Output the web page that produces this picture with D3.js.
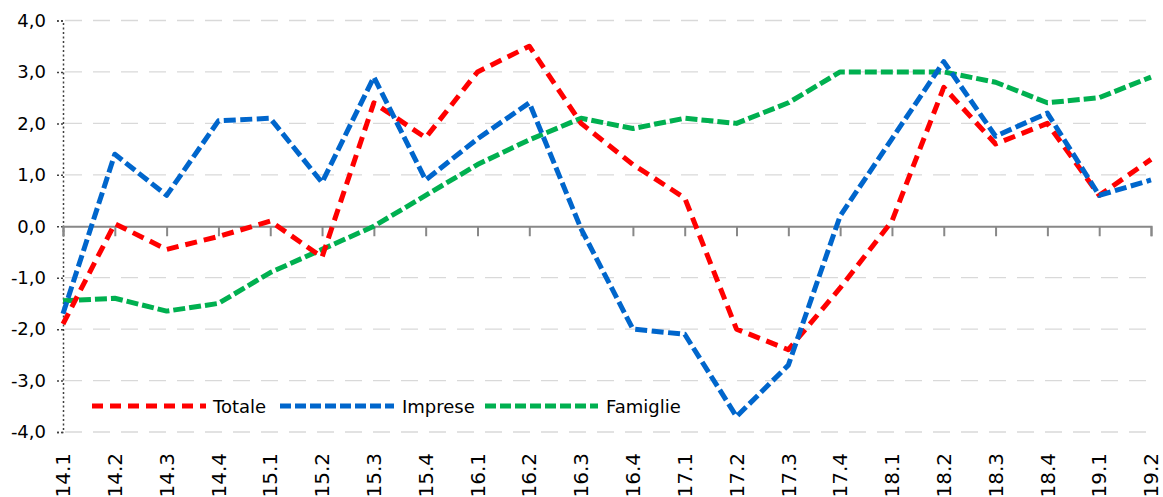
<!DOCTYPE html>
<html><head><meta charset="utf-8">
<script src="https://cdn.jsdelivr.net/npm/d3@7"></script>
<style>
html,body{margin:0;padding:0;background:#fff;}
svg{display:block;font-family:"DejaVu Sans",Verdana,sans-serif;}
</style></head>
<body>
<svg id="chart" width="1163" height="497"></svg>
<script>
const categories = ["14.1","14.2","14.3","14.4","15.1","15.2","15.3","15.4","16.1","16.2","16.3","16.4","17.1","17.2","17.3","17.4","18.1","18.2","18.3","18.4","19.1","19.2"];
const totale   = [-1.9, 0.05, -0.45, -0.2, 0.1, -0.6, 2.4, 1.72, 3.0, 3.5, 2.0, 1.2, 0.55, -2.0, -2.4, -1.2, 0.1, 2.7, 1.6, 2.0, 0.6, 1.3];
const imprese  = [-1.7, 1.4, 0.6, 2.05, 2.1, 0.85, 2.9, 0.9, 1.7, 2.4, -0.05, -2.0, -2.1, -3.7, -2.7, 0.2, 1.7, 3.2, 1.75, 2.2, 0.6, 0.9];
const famiglie = [-1.45, -1.4, -1.65, -1.5, -0.9, -0.45, 0.0, 0.6, 1.2, 1.68, 2.1, 1.9, 2.1, 2.0, 2.4, 3.0, 3.0, 3.0, 2.8, 2.4, 2.5, 2.9];
const yTicks = [-4,-3,-2,-1,0,1,2,3,4];
const seriesNames = ["Totale","Imprese","Famiglie"];

const svg = d3.select("#chart");
const x = d3.scalePoint().domain(categories).range([63, 1151]);
const y = d3.scaleLinear().domain([-4, 4]).range([432, 20.5]);
const fmt = v => d3.format(".1f")(v).replace(".", ",").replace("−","-");

// gridlines
svg.append("g").selectAll("line").data(yTicks.filter(d => d !== 0)).join("line")
  .attr("x1", 65).attr("x2", 1151)
  .attr("y1", d => y(d)).attr("y2", d => y(d))
  .attr("stroke", "#d9d9d9").attr("stroke-width", 1.3)
  .attr("stroke-dasharray", "17,11");

// y axis
const yAxis = d3.axisLeft(y).tickValues(yTicks).tickSize(6).tickFormat(fmt).tickPadding(11);
const gy = svg.append("g").attr("transform", "translate(63,0)").call(yAxis);
gy.select(".domain").attr("stroke", "#404040").attr("stroke-width", 1.5).attr("stroke-dasharray", "2,2.5");
gy.selectAll(".tick line").attr("stroke", "#404040").attr("stroke-width", 1.5).attr("stroke-dasharray", "2,2");
gy.selectAll(".tick text").attr("font-size", 18).attr("fill", "#000")
  .attr("font-family", "DejaVu Sans, Verdana, sans-serif");

// x axis at zero
const xAxis = d3.axisBottom(x).tickSize(10).tickFormat("");
const gx = svg.append("g").attr("transform", `translate(0,${y(0)})`).call(xAxis);
gx.select(".domain").attr("stroke", "#888").attr("stroke-width", 2);
gx.selectAll(".tick line").attr("stroke", "#888").attr("stroke-width", 2);

// x labels at bottom
svg.append("g").selectAll("text").data(categories).join("text")
  .attr("transform", d => `translate(${x(d)},453) rotate(-90)`)
  .attr("text-anchor", "end").attr("dy", "0.36em")
  .attr("font-size", 20).attr("fill", "#000").text(d => d);

const series = [
  {name: "Famiglie", values: famiglie, color: "#00B050", dash: "12,4"},
  {name: "Totale", values: totale, color: "#FF0000", dash: "12,7"},
  {name: "Imprese", values: imprese, color: "#0066CC", dash: "12,4.5"}
];
const line = d3.line().x((d, i) => x(categories[i])).y(d => y(d));
svg.append("g").selectAll("path").data(series).join("path")
  .attr("d", s => line(s.values))
  .attr("fill", "none").attr("stroke", s => s.color)
  .attr("stroke-width", 5).attr("stroke-dasharray", s => s.dash)
  .attr("stroke-linejoin", "round");

// legend
const legendItems = [
  {name: "Totale", color: "#FF0000", dash: "11,7", x1: 92, x2: 206, tx: 213},
  {name: "Imprese", color: "#0066CC", dash: "11,4", x1: 280, x2: 394, tx: 402},
  {name: "Famiglie", color: "#00B050", dash: "11,4", x1: 485, x2: 598, tx: 606}
];
const lg = svg.append("g");
lg.selectAll("line").data(legendItems).join("line")
  .attr("x1", d => d.x1).attr("x2", d => d.x2).attr("y1", 406).attr("y2", 406)
  .attr("stroke", d => d.color).attr("stroke-width", 5).attr("stroke-dasharray", d => d.dash);
lg.selectAll("text").data(legendItems).join("text")
  .attr("x", d => d.tx).attr("y", 413).attr("font-size", 18).attr("fill", "#000")
  .text(d => d.name);
</script>
</body></html>
